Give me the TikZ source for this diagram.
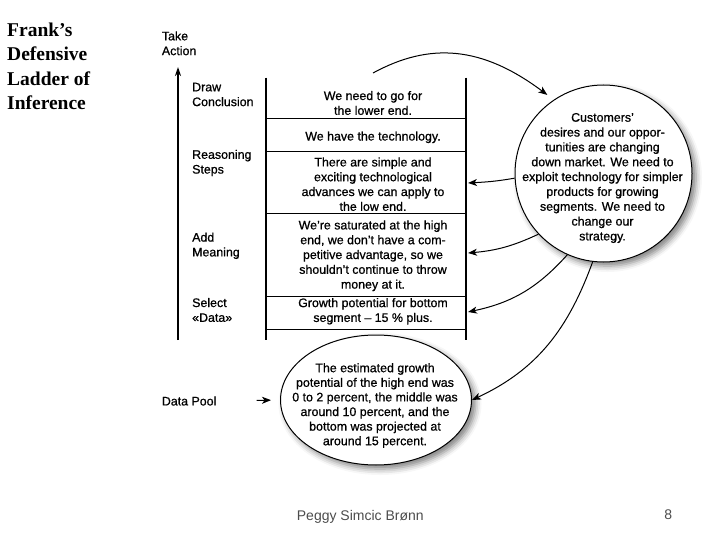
\documentclass[tikz,border=0pt]{standalone}
\usepackage{fontspec}
\setmainfont{Liberation Serif}
\newfontfamily\arialf[FakeBold=0.8]{Liberation Sans}
\newfontfamily\footf{Liberation Sans}
\usetikzlibrary{arrows.meta,shapes.geometric,shadows.blur}
\begin{document}
\begin{tikzpicture}[x=1pt,y=-1pt,
  sf/.style={font=\arialf\fontsize{12.4}{14.8}\selectfont, inner sep=0pt},
  lab/.style={sf, align=left, anchor=west},
  boxtxt/.style={sf, align=center},
  ladder/.style={line width=1.6pt},
  rung/.style={line width=0.8pt},
  thickrung/.style={line width=1.7pt},
  conn/.style={line width=1pt, -{Stealth[length=9pt,width=7pt,inset=2.5pt]}},
  bubble/.style={draw, fill=white, line width=1pt, inner sep=0pt,
    blur shadow={shadow xshift=4pt, shadow yshift=-4pt, shadow blur radius=6pt, shadow opacity=50}},
]
\useasboundingbox (0,0) rectangle (720,540);

% title
\node[font=\bfseries\fontsize{19.5}{24.1}\selectfont, align=left, anchor=west, inner sep=0pt]
  (title) at (7,66.3) {Frank’s\\Defensive\\Ladder of\\Inference};

% left labels
\node[lab] (take) at (161.7,43.3) {Take\\Action};
\node[lab] (draw) at (192,94.5) {Draw\\Conclusion};
\node[lab] (reas) at (192,163) {Reasoning\\Steps};
\node[lab] (add)  at (192,245.8) {Add\\Meaning};
\node[lab] (sel)  at (192,310) {Select\\«Data»};
\node[lab] (pool) at (161.7,401) {Data Pool};

% main vertical arrow
\coordinate (abot) at (178,340);
\coordinate (atop) at (178,67);
\draw[line width=1.8pt, -{Stealth[length=9pt,width=6pt]}] (abot) -- (atop);

% ladder frame
\draw[ladder] (266,77.7) -- (266,340);
\draw[ladder] (466,77.7) -- (466,340);
\draw[rung] (266,118) -- (466,118);
\draw[rung] (266,151) -- (466,151);
\draw[thickrung] (266,213.5) -- (466,213.5);
\draw[rung] (266,296) -- (466,296);
\draw[rung] (266,329) -- (466,329);

% ladder texts
\node[boxtxt] (b1) at (373,103) {We need to go for\\the lower end.};
\node[boxtxt] (b2) at (373,137.3) {We have the technology.};
\node[boxtxt] (b3) at (373,184.2) {There are simple and\\exciting technological\\advances we can apply to\\the low end.};
\node[boxtxt] (b4) at (373,255.8) {We’re saturated at the high\\end, we don’t have a com-\\petitive advantage, so we\\shouldn’t continue to throw\\money at it.};
\node[boxtxt] (b5) at (373,311.3) {Growth potential for bottom\\segment – 15 \% plus.};

% bubbles
\node[bubble, circle, minimum size=177pt] (cust) at (603.5,173.5) {};
\node[font=\arialf\fontsize{12.4}{14.84}\selectfont, inner sep=0pt, align=center]
  (custtxt) at (602.5,178) {Customers’\\desires and our oppor-\\tunities are changing\\down market. We need to\\exploit technology for simpler\\products for growing\\segments. We need to\\change our\\strategy.};

\node[bubble, ellipse, minimum width=191pt, minimum height=130pt] (ell) at (376,400) {};
\node[font=\arialf\fontsize{12.4}{14.6}\selectfont, inner sep=0pt, align=center]
  (elltxt) at (375,405.5) {The estimated growth\\potential of the high end was\\0 to 2 percent, the middle was\\around 10 percent, and the\\bottom was projected at\\around 15 percent.};

% connectors
\coordinate (ladtop) at (373,73);
\coordinate (r2) at (468,183);
\coordinate (r3) at (468,253);
\coordinate (r4) at (468,312);
\draw[conn, shorten >=8pt] (ladtop) .. controls (430,42) and (482,46) .. (cust.124);
\draw[conn] (cust.183) to[out=190,in=3] (r2);
\draw[conn] (cust.223) to[out=205,in=5] (r3);
\draw[conn] (cust.246) to[out=228,in=12] (r4);
\draw[conn] (cust.263) to[out=250,in=25] (ell.east);
\draw[conn, shorten <=40pt, shorten >=9pt] (pool.east) -- (ell.west);

% footer
\node[font=\footf\fontsize{14}{16}\selectfont, text=black!70, anchor=west, inner sep=0pt]
  (foot) at (296.7,516.4) {Peggy Simcic Brønn};
\node[font=\footf\fontsize{14}{16}\selectfont, text=black!70, inner sep=0pt]
  (page) at (668.3,515) {8};
\end{tikzpicture}
\end{document}
